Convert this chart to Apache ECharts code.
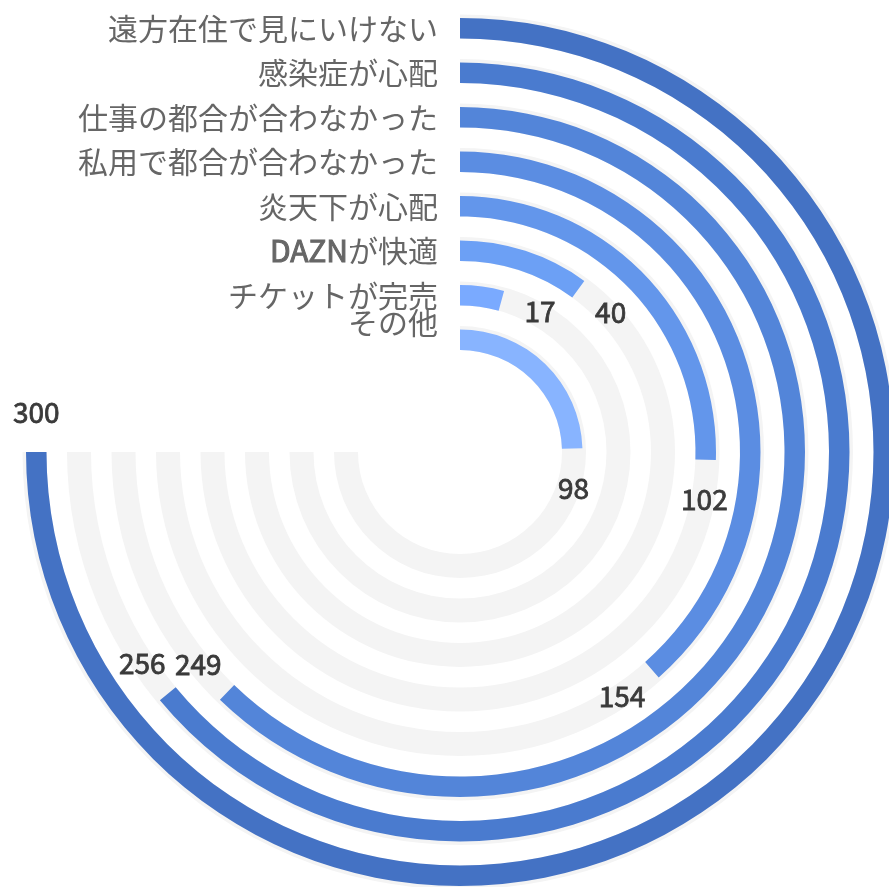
<!DOCTYPE html>
<html>
<head>
<meta charset="utf-8">
<script src="https://cdn.jsdelivr.net/npm/echarts@6/dist/echarts.min.js"></script>
<style>
  html, body { margin: 0; padding: 0; background: #ffffff; }
  #chart { width: 889px; height: 887px; }
</style>
</head>
<body>
<div id="chart"></div>
<script>
// Reasons, listed from the innermost ring to the outermost ring
const categories = [
  'その他',
  'チケットが完売',
  'DAZNが快適',
  '炎天下が心配',
  '私用で都合が合わなかった',
  '仕事の都合が合わなかった',
  '感染症が心配',
  '遠方在住で見にいけない'
];
const counts = [98, 17, 40, 102, 154, 249, 256, 300];
// Full length of the angle scale (a complete 270° ring)
const scaleMax = 300;
const trackValues = categories.map(() => scaleMax);
// Ring colours, inner to outer
const ringColors = ['#88b4ff', '#7aaaff', '#6ca0f5', '#6396eb', '#5b8de2', '#5385d9', '#4a7bcf', '#4472c4'];

const chart = echarts.init(document.getElementById('chart'), null, { renderer: 'canvas' });

const fontFamily = '"Noto Sans CJK JP", "Noto Sans", sans-serif';
const catSize = 30;

chart.setOption({
  animation: false,
  backgroundColor: '#ffffff',
  polar: {
    center: [460, 452],
    radius: [90, 446]
  },
  angleAxis: {
    type: 'value',
    min: 0,
    max: scaleMax,
    startAngle: 90,
    endAngle: -180,
    clockwise: true,
    axisLine: { show: false },
    axisTick: { show: false },
    axisLabel: { show: false },
    splitLine: { show: false }
  },
  radiusAxis: {
    type: 'category',
    data: categories,
    axisLine: { show: false },
    axisTick: { show: false },
    splitLine: { show: false },
    axisLabel: {
      interval: 0,
      margin: 22,
      color: '#666666',
      fontSize: catSize,
      fontFamily: fontFamily,
      formatter: function (v) {
        if (v === 'その他') return '{up|' + v + '}';
        if (v.indexOf('DAZN') === 0) return '{b|DAZN}{n|' + v.slice(4) + '}';
        return v;
      },
      rich: {
        up: { fontSize: catSize, color: '#666666', fontFamily: fontFamily, padding: [0, 0, 34, 0] },
        b: { fontSize: catSize, color: '#666666', fontFamily: fontFamily, textBorderColor: '#666666', textBorderWidth: 1 },
        n: { fontSize: catSize, color: '#666666', fontFamily: fontFamily }
      }
    }
  },
  series: [
    {
      type: 'bar',
      coordinateSystem: 'polar',
      name: 'track',
      data: trackValues,
      barWidth: 24,
      barGap: '-100%',
      silent: true,
      z: 1,
      itemStyle: { color: '#f4f4f4' }
    },
    {
      type: 'bar',
      coordinateSystem: 'polar',
      name: '人数',
      data: counts.map((v, i) => ({ value: v, itemStyle: { color: ringColors[i] } })),
      barWidth: 24.5,
      barGap: '-100%',
      z: 2,
      label: {
        show: true,
        position: 'end',
        rotate: 0,
        distance: 40,
        align: 'center',
        verticalAlign: 'middle',
        color: '#3a3a3a',
        textBorderColor: '#3a3a3a',
        textBorderWidth: 0.8,
        fontSize: 28,
        fontFamily: fontFamily
      }
    }
  ]
});
</script>
</body>
</html>
